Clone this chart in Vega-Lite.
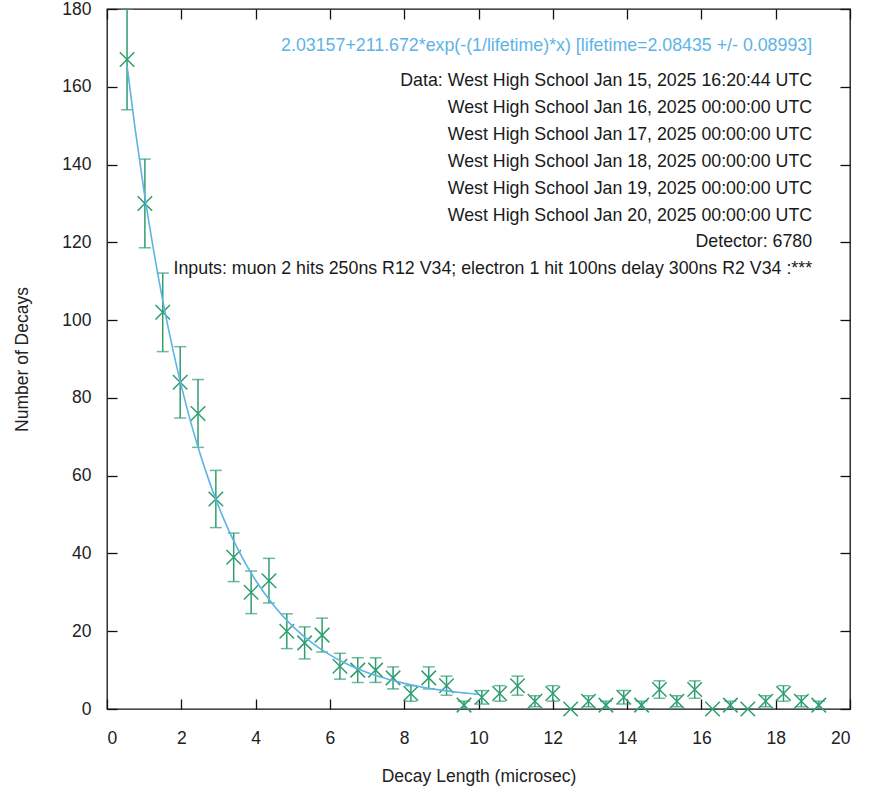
{
  "$schema": "https://vega.github.io/schema/vega-lite/v6.json",
  "width": 743,
  "height": 700,
  "autosize": {"type": "none"},
  "padding": {"left": 107, "top": 9, "right": 24, "bottom": 78},
  "background": "white",
  "config": {
    "font": "Liberation Sans",
    "view": {"stroke": "#111", "strokeWidth": 1.3},
    "axis": {
      "domain": false,
      "grid": false,
      "labelFont": "Liberation Sans",
      "labelFontSize": 17.5,
      "labelColor": "#222",
      "titleFont": "Liberation Sans",
      "titleFontSize": 17.5,
      "titleFontWeight": "normal",
      "titleColor": "#222",
      "tickColor": "#111",
      "tickWidth": 1.3
    }
  },
  "datasets": {
    "decays": [
      {"x": 0.54, "n": 167, "lo": 154.08, "hi": 179.92},
      {"x": 1.02, "n": 130, "lo": 118.60, "hi": 141.40},
      {"x": 1.50, "n": 102, "lo": 91.90, "hi": 112.10},
      {"x": 1.97, "n": 84, "lo": 74.83, "hi": 93.17},
      {"x": 2.45, "n": 76, "lo": 67.28, "hi": 84.72},
      {"x": 2.93, "n": 54, "lo": 46.65, "hi": 61.35},
      {"x": 3.41, "n": 39, "lo": 32.76, "hi": 45.24},
      {"x": 3.88, "n": 30, "lo": 24.52, "hi": 35.48},
      {"x": 4.36, "n": 33, "lo": 27.26, "hi": 38.74},
      {"x": 4.84, "n": 20, "lo": 15.53, "hi": 24.47},
      {"x": 5.32, "n": 17, "lo": 12.88, "hi": 21.12},
      {"x": 5.79, "n": 19, "lo": 14.64, "hi": 23.36},
      {"x": 6.27, "n": 11, "lo": 7.68, "hi": 14.32},
      {"x": 6.75, "n": 10, "lo": 6.84, "hi": 13.16},
      {"x": 7.23, "n": 10, "lo": 6.84, "hi": 13.16},
      {"x": 7.70, "n": 8, "lo": 5.17, "hi": 10.83},
      {"x": 8.18, "n": 4, "lo": 2.0, "hi": 6.0},
      {"x": 8.66, "n": 8, "lo": 5.17, "hi": 10.83},
      {"x": 9.14, "n": 6, "lo": 3.55, "hi": 8.45},
      {"x": 9.61, "n": 1, "lo": 0.0, "hi": 2.0},
      {"x": 10.09, "n": 3, "lo": 1.27, "hi": 4.73},
      {"x": 10.57, "n": 4, "lo": 2.0, "hi": 6.0},
      {"x": 11.05, "n": 6, "lo": 3.55, "hi": 8.45},
      {"x": 11.52, "n": 2, "lo": 0.59, "hi": 3.41},
      {"x": 12.00, "n": 4, "lo": 2.0, "hi": 6.0},
      {"x": 12.48, "n": 0, "lo": 0.0, "hi": 0.0},
      {"x": 12.96, "n": 2, "lo": 0.59, "hi": 3.41},
      {"x": 13.43, "n": 1, "lo": 0.0, "hi": 2.0},
      {"x": 13.91, "n": 3, "lo": 1.27, "hi": 4.73},
      {"x": 14.39, "n": 1, "lo": 0.0, "hi": 2.0},
      {"x": 14.87, "n": 5, "lo": 2.76, "hi": 7.24},
      {"x": 15.34, "n": 2, "lo": 0.59, "hi": 3.41},
      {"x": 15.82, "n": 5, "lo": 2.76, "hi": 7.24},
      {"x": 16.30, "n": 0, "lo": 0.0, "hi": 0.0},
      {"x": 16.78, "n": 1, "lo": 0.0, "hi": 2.0},
      {"x": 17.25, "n": 0, "lo": 0.0, "hi": 0.0},
      {"x": 17.73, "n": 2, "lo": 0.59, "hi": 3.41},
      {"x": 18.21, "n": 4, "lo": 2.0, "hi": 6.0},
      {"x": 18.69, "n": 2, "lo": 0.59, "hi": 3.41},
      {"x": 19.16, "n": 1, "lo": 0.0, "hi": 2.0}
    ],
    "fit": [
      {"x": 0.54, "f": 165.4},
      {"x": 0.75, "f": 149.7},
      {"x": 1.0, "f": 133.0},
      {"x": 1.25, "f": 118.2},
      {"x": 1.5, "f": 105.1},
      {"x": 1.75, "f": 93.45},
      {"x": 2.0, "f": 83.1},
      {"x": 2.25, "f": 73.9},
      {"x": 2.5, "f": 65.8},
      {"x": 2.75, "f": 58.6},
      {"x": 3.0, "f": 52.2},
      {"x": 3.25, "f": 46.5},
      {"x": 3.5, "f": 41.5},
      {"x": 4.0, "f": 33.1},
      {"x": 4.5, "f": 26.5},
      {"x": 5.0, "f": 21.25},
      {"x": 5.5, "f": 17.15},
      {"x": 6.0, "f": 13.93},
      {"x": 6.5, "f": 11.39},
      {"x": 7.0, "f": 9.39},
      {"x": 7.5, "f": 7.82},
      {"x": 8.0, "f": 6.59},
      {"x": 8.5, "f": 5.61},
      {"x": 9.0, "f": 4.85},
      {"x": 9.5, "f": 4.25},
      {"x": 10.0, "f": 3.78}
    ]
  },
  "layer": [
    {
      "data": {"name": "decays"},
      "mark": {"type": "rule", "color": "#2f9e6f", "strokeWidth": 1.5, "clip": true},
      "encoding": {
        "x": {"field": "x", "type": "quantitative", "scale": {"domain": [0, 20], "nice": false},
              "axis": {"orient": "bottom", "values": [0,2,4,6,8,10,12,14,16,18,20], "tickSize": -10, "labelPadding": 30, "title": "Decay Length (microsec)", "titlePadding": 21}},
        "y": {"field": "lo", "type": "quantitative", "scale": {"domain": [0, 180], "nice": false},
              "axis": {"orient": "left", "values": [0,20,40,60,80,100,120,140,160,180], "tickSize": -10, "labelPadding": 26, "title": "Number of Decays", "titlePadding": 30}},
        "y2": {"field": "hi"}
      }
    },
    {
      "data": {"name": "decays"},
      "mark": {"type": "tick", "orient": "horizontal", "color": "#2f9e6f", "size": 12, "thickness": 1.5, "clip": true},
      "encoding": {
        "x": {"field": "x", "type": "quantitative",
              "axis": {"orient": "top", "values": [0,2,4,6,8,10,12,14,16,18,20], "tickSize": -10, "labels": false, "title": null}},
        "y": {"field": "lo", "type": "quantitative",
              "axis": {"orient": "right", "values": [0,20,40,60,80,100,120,140,160,180], "tickSize": -10, "labels": false, "title": null}}
      }
    },
    {
      "data": {"name": "decays"},
      "mark": {"type": "tick", "orient": "horizontal", "color": "#2f9e6f", "size": 12, "thickness": 1.5, "clip": true},
      "encoding": {
        "x": {"field": "x", "type": "quantitative", "axis": null},
        "y": {"field": "hi", "type": "quantitative", "axis": null}
      }
    },
    {
      "data": {"name": "decays"},
      "mark": {"type": "point", "shape": "M-1,-1L1,1M-1,1L1,-1", "filled": false, "color": "#2f9e6f", "size": 210, "strokeWidth": 1.5, "opacity": 1},
      "encoding": {
        "x": {"field": "x", "type": "quantitative", "axis": null},
        "y": {"field": "n", "type": "quantitative", "axis": null}
      }
    },
    {
      "data": {"name": "fit"},
      "mark": {"type": "line", "color": "#5db3e6", "strokeWidth": 1.6, "interpolate": "monotone"},
      "encoding": {
        "x": {"field": "x", "type": "quantitative", "axis": null},
        "y": {"field": "f", "type": "quantitative", "axis": null}
      }
    },
    {
      "data": {"values": [{"label": "2.03157+211.672*exp(-(1/lifetime)*x) [lifetime=2.08435 +/- 0.08993]"}]},
      "mark": {"type": "text", "align": "right", "baseline": "middle", "fontSize": 17.8, "color": "#5db3e6", "font": "Liberation Sans"},
      "encoding": {
        "x": {"datum": 18.98, "type": "quantitative", "axis": null},
        "y": {"datum": 170.6, "type": "quantitative", "axis": null},
        "text": {"field": "label"}
      }
    },
    {
      "data": {"values": [{"block": "notes"}]},
      "mark": {"type": "text", "align": "right", "baseline": "top", "fontSize": 17.8, "lineHeight": 26.9, "color": "#1a1a1a", "font": "Liberation Sans"},
      "encoding": {
        "x": {"datum": 18.98, "type": "quantitative", "axis": null},
        "y": {"datum": 163.8, "type": "quantitative", "axis": null},
        "text": {"value": [
          "Data: West High School Jan 15, 2025 16:20:44 UTC",
          "West High School Jan 16, 2025 00:00:00 UTC",
          "West High School Jan 17, 2025 00:00:00 UTC",
          "West High School Jan 18, 2025 00:00:00 UTC",
          "West High School Jan 19, 2025 00:00:00 UTC",
          "West High School Jan 20, 2025 00:00:00 UTC",
          "Detector: 6780",
          "Inputs: muon 2 hits 250ns R12 V34; electron 1 hit 100ns delay 300ns R2 V34 :***"
        ]}
      }
    }
  ]
}
